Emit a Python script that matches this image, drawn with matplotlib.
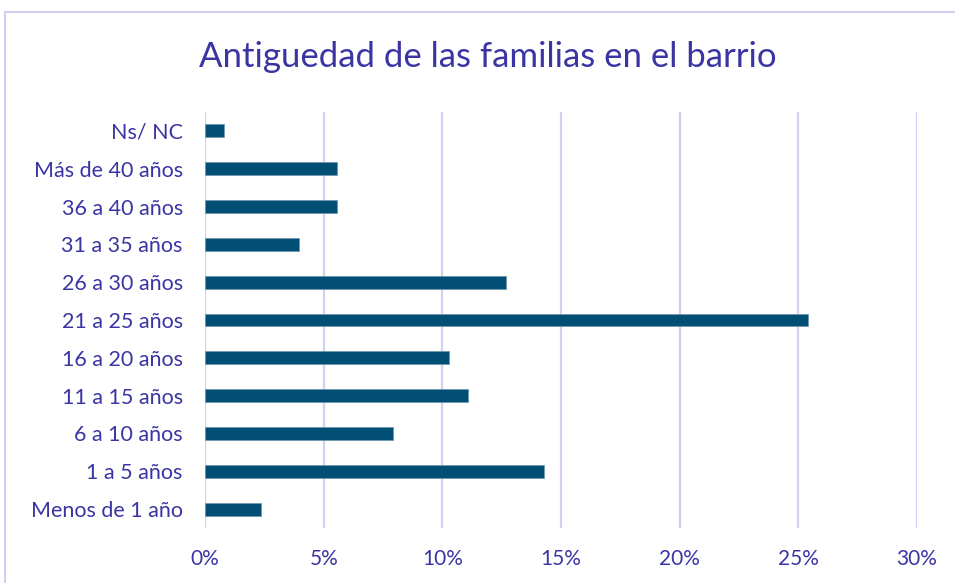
import numpy as np
import matplotlib.pyplot as plt
from matplotlib.lines import Line2D
from matplotlib.ticker import FuncFormatter

categorias = ["Ns/ NC", "Más de 40 años", "36 a 40 años", "31 a 35 años",
              "26 a 30 años", "21 a 25 años", "16 a 20 años", "11 a 15 años",
              "6 a 10 años", "1 a 5 años", "Menos de 1 año"]
porcentajes = [0.8, 5.55, 5.55, 3.95, 12.7, 25.4, 10.3, 11.1, 7.9, 14.3, 2.35]
xticks = [0, 5, 10, 15, 20, 25, 30]

plt.rcParams['font.family'] = ['Lato', 'DejaVu Sans']
texto = '#3b35a3'
barra = '#024f75'
rejilla = '#d3cff0'

fig = plt.figure(figsize=(9.55, 5.83), dpi=100)
ax = fig.add_axes([0.2147, 0.0943, 0.7455, 0.7136])

y = np.arange(len(categorias))
ax.barh(y, porcentajes, height=0.34, color=barra, edgecolor='#6f98b0', linewidth=0.6, zorder=3)
ax.set_ylim(len(categorias) - 0.5, -0.5)
ax.set_yticks(y)
ax.set_yticklabels(categorias, fontsize=15.5, color=texto)
ax.set_xlim(0, 30)
ax.set_xticks(xticks)
ax.xaxis.set_major_formatter(FuncFormatter(lambda v, p: f"{v:.0f}%"))
ax.tick_params(axis='x', labelsize=15, labelcolor=texto, length=0, pad=15)
ax.tick_params(axis='y', length=0, pad=16)
ax.grid(axis='x', color=rejilla, linewidth=1.6, zorder=0)
for s in ax.spines.values():
    s.set_visible(False)

fig.text(0.511, 0.902, "Antiguedad de las familias en el barrio", ha='center', va='center',
         fontsize=25, color=texto)

# borde del gráfico
fig.add_artist(Line2D([0.005, 1.0], [0.979, 0.979], color=rejilla, linewidth=1.5))
fig.add_artist(Line2D([0.005, 0.005], [0.0, 0.979], color=rejilla, linewidth=1.5))

fig.savefig("out.png", dpi=100)
